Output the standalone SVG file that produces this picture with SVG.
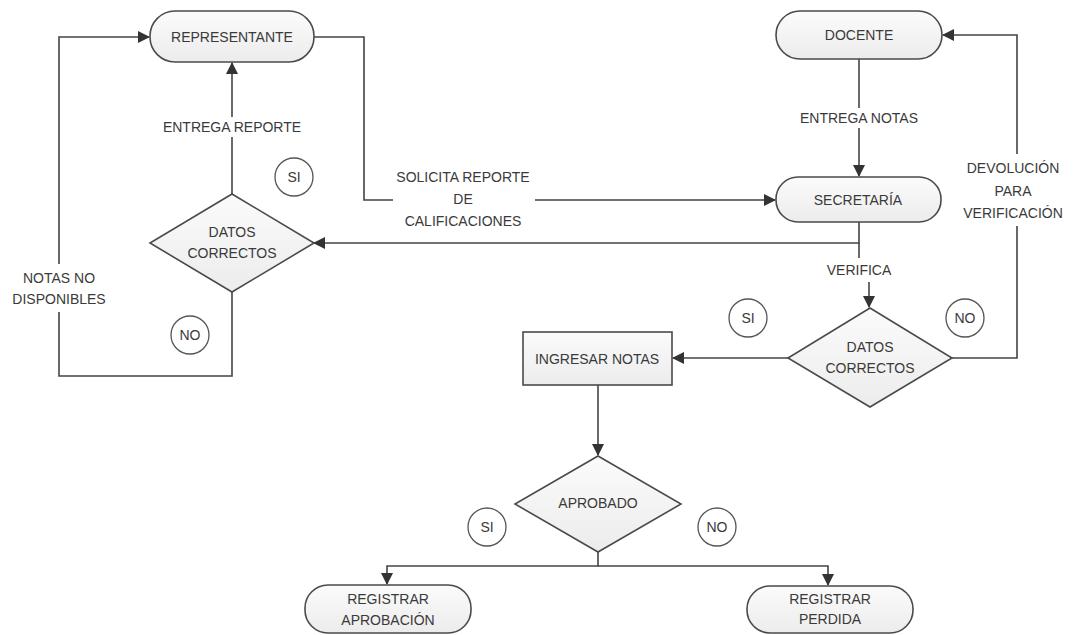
<svg xmlns="http://www.w3.org/2000/svg" width="1075" height="635" viewBox="0 0 1075 635">
<style>
.t{font-family:"Liberation Sans",Arial,sans-serif;font-size:14px;fill:#3a3a3a;text-anchor:middle;dominant-baseline:central}
.s{fill:url(#g);stroke:#4a4a4a;stroke-width:1.6}
.c{fill:#fff;stroke:#555;stroke-width:1.3}
.ln{fill:none;stroke:#444;stroke-width:1.6}
.bg{fill:#fff}
</style>
<defs>
<linearGradient id="g" x1="0" y1="0" x2="0" y2="1"><stop offset="0" stop-color="#fbfbfb"/><stop offset="1" stop-color="#ececec"/></linearGradient>
<marker id="a" markerWidth="12" markerHeight="12" refX="11" refY="6" orient="auto" markerUnits="userSpaceOnUse"><path d="M0,0 L12,6 L0,12 z" fill="#333"/></marker>
</defs>
<g id="connectors">
<path class="ln" d="M859,59 V176" marker-end="url(#a)"/>
<path class="ln" d="M314,37 H364 V200 H775" marker-end="url(#a)"/>
<path class="ln" d="M859,222 V243 H314" marker-end="url(#a)"/>
<path class="ln" d="M859,243 V258"/>
<path class="ln" d="M869,282 V307" marker-end="url(#a)"/>
<path class="ln" d="M232,194 V63" marker-end="url(#a)"/>
<path class="ln" d="M232,292 V376 H59 V37 H149" marker-end="url(#a)"/>
<path class="ln" d="M788,358 H673" marker-end="url(#a)"/>
<path class="ln" d="M952,358 H1017 V35 H943" marker-end="url(#a)"/>
<path class="ln" d="M598,385 V455" marker-end="url(#a)"/>
<path class="ln" d="M598,552 V566 H387 V584" marker-end="url(#a)"/>
<path class="ln" d="M598,566 H828 V585" marker-end="url(#a)"/>
<rect class="bg" x="158" y="117" width="148" height="20"/>
<text class="t" x="232" y="127">ENTREGA REPORTE</text>
<rect class="bg" x="393" y="166" width="142" height="66"/>
<text class="t" x="463" y="177">SOLICITA REPORTE</text>
<text class="t" x="463" y="199">DE</text>
<text class="t" x="463" y="221">CALIFICACIONES</text>
<rect class="bg" x="792" y="108" width="134" height="20"/>
<text class="t" x="859" y="118">ENTREGA NOTAS</text>
<rect class="bg" x="960" y="154" width="108" height="72"/>
<text class="t" x="1013" y="168">DEVOLUCIÓN</text>
<text class="t" x="1013" y="191">PARA</text>
<text class="t" x="1013" y="213">VERIFICACIÓN</text>
<rect class="bg" x="14" y="264" width="92" height="48"/>
<text class="t" x="59" y="278">NOTAS NO</text>
<text class="t" x="59" y="299">DISPONIBLES</text>
<text class="t" x="859" y="270">VERIFICA</text>
</g>
<g id="representante"><rect class="s" x="150" y="11" width="164" height="51" rx="25"/><text class="t" x="232" y="37">REPRESENTANTE</text></g>
<g id="docente"><rect class="s" x="776" y="11" width="166" height="48" rx="24"/><text class="t" x="859" y="35">DOCENTE</text></g>
<g id="secretaria"><rect class="s" x="776" y="177" width="165" height="45" rx="22"/><text class="t" x="858" y="200">SECRETARÍA</text></g>
<g id="datos1"><polygon class="s" points="232,194 314,243 232,292 150,243"/><text class="t" x="232" y="232">DATOS</text><text class="t" x="232" y="253">CORRECTOS</text></g>
<g id="datos2"><polygon class="s" points="870,308 952,358 870,407 788,358"/><text class="t" x="870" y="347">DATOS</text><text class="t" x="870" y="368">CORRECTOS</text></g>
<g id="ingresar"><rect class="s" x="523" y="332" width="149" height="53"/><text class="t" x="597" y="359">INGRESAR NOTAS</text></g>
<g id="aprobado"><polygon class="s" points="598,456 681,504 598,552 515,504"/><text class="t" x="598" y="503">APROBADO</text></g>
<g id="reg-aprob"><rect class="s" x="305" y="585" width="166" height="48" rx="23"/><text class="t" x="388" y="599">REGISTRAR</text><text class="t" x="388" y="620">APROBACIÓN</text></g>
<g id="reg-perd"><rect class="s" x="747" y="586" width="166" height="47" rx="23"/><text class="t" x="830" y="599">REGISTRAR</text><text class="t" x="830" y="619">PERDIDA</text></g>
<g id="si1"><circle class="c" cx="294" cy="177" r="19"/><text class="t" x="294" y="177">SI</text></g>
<g id="no1"><circle class="c" cx="190" cy="335" r="19"/><text class="t" x="190" y="335">NO</text></g>
<g id="si2"><circle class="c" cx="748" cy="318" r="19"/><text class="t" x="748" y="318">SI</text></g>
<g id="no2"><circle class="c" cx="965" cy="318" r="19"/><text class="t" x="965" y="318">NO</text></g>
<g id="si3"><circle class="c" cx="487" cy="527" r="19"/><text class="t" x="487" y="527">SI</text></g>
<g id="no3"><circle class="c" cx="717" cy="527" r="19"/><text class="t" x="717" y="527">NO</text></g>
</svg>
